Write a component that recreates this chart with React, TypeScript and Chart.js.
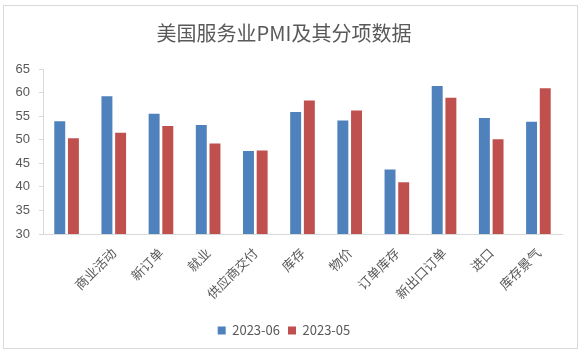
import React, { useEffect, useRef } from "react";
import { Chart, registerables } from "chart.js";

Chart.register(...registerables);

const categories = ["", "商业活动", "新订单", "就业", "供应商交付", "库存", "物价", "订单库存", "新出口订单", "进口", "库存景气"];
const seriesJun = [53.9, 59.2, 55.5, 53.1, 47.6, 55.9, 54.1, 43.7, 61.4, 54.6, 53.8];
const seriesMay = [50.3, 51.5, 52.9, 49.2, 47.7, 58.3, 56.2, 41.0, 58.9, 50.1, 60.9];
const seriesNames = ["2023-06", "2023-05"];
const titleText = "美国服务业PMI及其分项数据";

const FONT = "'Noto Sans CJK SC', 'Noto Sans', sans-serif";
const TXT = "#595959";

export default function App() {
  const ref = useRef<HTMLCanvasElement>(null);
  useEffect(() => {
    const chart = new Chart(ref.current!, {
      type: "bar",
      data: {
        labels: categories,
        datasets: [
          { label: seriesNames[0], data: seriesJun, backgroundColor: "#4F81BD", borderWidth: 0, barPercentage: 0.8, categoryPercentage: 0.58 },
          { label: seriesNames[1], data: seriesMay, backgroundColor: "#C0504D", borderWidth: 0, barPercentage: 0.8, categoryPercentage: 0.58 },
        ],
      },
      options: {
        animation: false,
        responsive: false,
        maintainAspectRatio: false,
        layout: { padding: { left: 6, right: 22, top: 0, bottom: 8 } },
        plugins: {
          title: {
            display: true,
            text: titleText,
            color: TXT,
            font: { family: FONT, size: 20, weight: "normal" },
            padding: { top: 21, bottom: 24 },
          },
          legend: {
            position: "bottom",
            labels: {
              color: TXT,
              font: { family: FONT, size: 13 },
              boxWidth: 8,
              boxHeight: 8,
              padding: 8,
            },
          },
          tooltip: { enabled: false },
        },
        scales: {
          x: {
            grid: { display: false },
            border: { display: true, color: "#d9d9d9", width: 1 },
            ticks: {
              color: TXT,
              font: { family: FONT, size: 13 },
              maxRotation: 45,
              minRotation: 45,
              autoSkip: false,
            },
            afterFit: (s: any) => { s.height = 82; },
          },
          y: {
            min: 30,
            max: 65,
            grid: { display: true, drawOnChartArea: false, color: "#d9d9d9", tickLength: 4 },
            border: { display: true, color: "#d9d9d9", width: 1 },
            ticks: {
              stepSize: 5,
              color: TXT,
              font: { family: "'Liberation Sans', sans-serif", size: 13 },
              padding: 9,
            },
            afterFit: (s: any) => { s.width = 37; },
          },
        },
      },
    });
    return () => chart.destroy();
  }, []);
  return (
    <div style={{ position: "fixed", left: 0, top: 0, width: 584, height: 355, background: "#fff" }}>
      <div style={{ position: "absolute", left: 3, top: 5, width: 575, height: 344, border: "1px solid #d9d9d9", boxSizing: "border-box" }} />
      <canvas ref={ref} width={584} height={355} style={{ position: "absolute", left: 0, top: 0 }} />
    </div>
  );
}
